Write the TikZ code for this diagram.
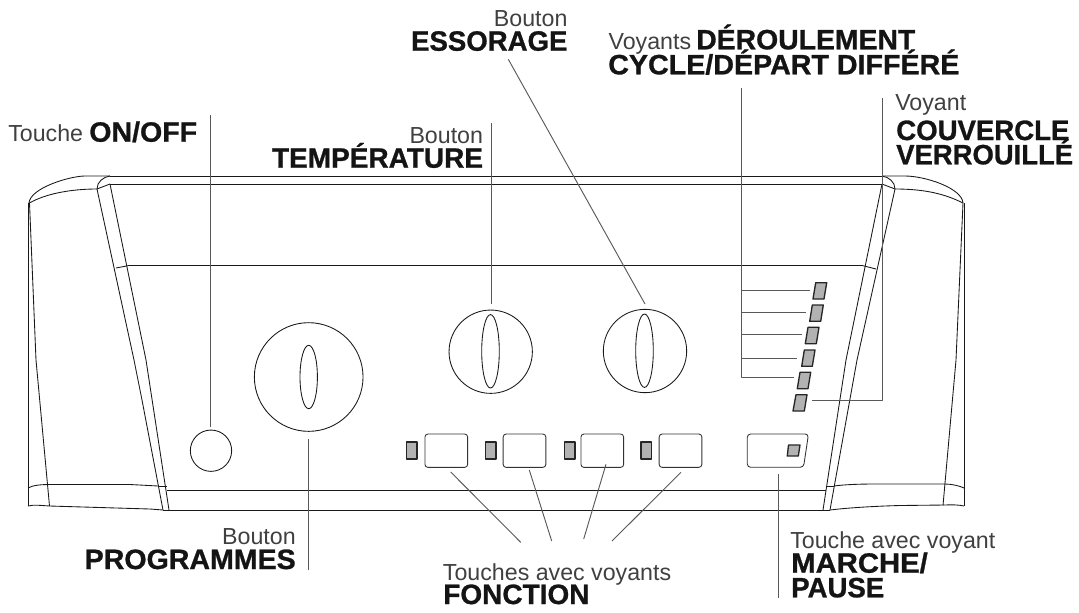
\documentclass[tikz,border=0pt]{standalone}
\usepackage{graphicx}
\usepackage{fontspec}
\setmainfont{Liberation Sans}
\newfontfamily\heavyfont[BoldFeatures={FakeBold=0.9}]{Liberation Sans}
\newcommand{\widen}[2]{\scalebox{#1}[1]{#2}}
\begin{document}
\begin{tikzpicture}[x=0.75pt,y=-0.75pt,line join=round,
  body/.style={draw=black!90,line width=0.65pt},
  lead/.style={draw=black!65,line width=0.7pt},
  lamp/.style={draw=black!85,fill=black!30,line width=1pt},
  flatlamp/.style={lamp,rectangle,inner sep=0pt,minimum width=8pt,minimum height=12.6pt},
  keybox/.style={draw=black!80,line width=0.65pt,rectangle,rounded corners=2.2pt,inner sep=0pt,minimum width=32pt,minimum height=25pt},
  knob/.style={draw=black!90,line width=0.65pt,circle,inner sep=0pt},
  thintext/.style={font=\fontsize{17.4}{18}\selectfont,text=black!75,inner sep=0pt},
  heavytext/.style={font=\fontsize{21}{21}\heavyfont\bfseries,text=black!92,inner sep=0pt}]
\useasboundingbox (0,0) rectangle (1079,612);

% ---- body of the panel
\draw[body] (110,176) -- (882,176);
\draw[body] (110,184) -- (882,184);
\draw[body] (128,265.7) -- (863,265.7);
\draw[body] (167,490) -- (826,490);
\draw[body] (163,510) -- (830,510);
% left shell
\draw[body] (29,203) .. controls (30,188) and (70,176) .. (85,176) -- (110,176);
\draw[body] (29.5,203) .. controls (45,194) and (70,189) .. (97,189);
\draw[body] (97,189) .. controls (97,182) and (103,177) .. (110,176);
\draw[body] (97,189) -- (110,184);
\draw[body] (97,189) -- (134,360) -- (142,400) -- (163,510);
\draw[body] (110,184) -- (146,360) -- (169,510);
\draw[body] (116,268) -- (128,265.7);
\draw[body] (158,486) -- (167,486);
\draw[body] (28,203) -- (28,506);
\draw[body] (29.5,203) -- (36,360) -- (49.5,506);
\draw[body] (28,488) .. controls (33,485) and (42,484.5) .. (50,484.5) -- (130,484.5) -- (158,486);
\draw[body] (28,506) .. controls (33,504.5) and (42,505.5) .. (49.5,506) -- (150,509) -- (163,510);
% right shell
\draw[body] (882,176) -- (905,176) .. controls (925,176) and (962,188) .. (963,203);
\draw[body] (895,189) .. controls (925,189) and (945,194) .. (963,203);
\draw[body] (882,176) .. controls (889,177) and (895,182) .. (895,189);
\draw[body] (882,184) -- (895,189);
\draw[body] (895,189) -- (857,360) -- (830,510);
\draw[body] (882,184) -- (846,360) -- (823,510);
\draw[body] (863,265.7) -- (876,269);
\draw[body] (826,486) -- (834,486);
\draw[body] (964,203) -- (964,506);
\draw[body] (963,203) -- (956,360) -- (943,505.5);
\draw[body] (834,486) .. controls (845,484.5) and (860,484) .. (875,484) -- (945,484) .. controls (952,484) and (960,486) .. (964,488);
\draw[body] (830,510) .. controls (850,507.5) and (880,506) .. (900,505.5) -- (945,505) .. controls (952,504.5) and (960,505) .. (964,506);

% ---- knobs
\node[knob,minimum size=81.5pt] (progknob) at (308.7,377) {};
\node[knob,minimum size=62.5pt] (tempknob) at (490.7,351.7) {};
\node[knob,minimum size=62.5pt] (spinknob) at (645,351) {};
\node[knob,minimum size=31pt] (powerkey) at (211,450.7) {};
\draw[body] (308.7,377) ellipse [x radius=8.7,y radius=31.7];
\draw[body] (490.5,351.3) ellipse [x radius=8.8,y radius=36.7];
\draw[body] (644.5,350.7) ellipse [x radius=8.8,y radius=36.7];

% ---- function keys and their lamps
\node[keybox] (keya) at (446.3,450.7) {};
\node[keybox] (keyb) at (524.5,450.7) {};
\node[keybox] (keyc) at (602.3,450.7) {};
\node[keybox] (keyd) at (680.5,450.7) {};
\node[flatlamp] (lampa) at (411.7,450.5) {};
\node[flatlamp] (lampb) at (490.5,450.5) {};
\node[flatlamp] (lampc) at (569.5,450.5) {};
\node[flatlamp] (lampd) at (646.3,450.5) {};

% ---- start key
\draw[draw=black!80,line width=0.65pt,rounded corners=2.5pt] (747.3,434) -- (808.5,434) -- (803.5,467.3) -- (747.3,467.3) -- cycle;
\draw[lamp] (788.5,445) -- (800,445) -- (798.3,456) -- (787.3,456) -- cycle;

% ---- column of lamps
\draw[lamp] (815.7,282.7) -- (826.7,282.7) -- (824,299) -- (813,299) -- cycle;
\draw[lamp] (812.3,305) -- (823.3,305) -- (820.7,321.3) -- (809.7,321.3) -- cycle;
\draw[lamp] (808,327.3) -- (819,327.3) -- (816.3,343.7) -- (805.3,343.7) -- cycle;
\draw[lamp] (804.3,350) -- (815,350) -- (812.3,366.3) -- (801.7,366.3) -- cycle;
\draw[lamp] (800,372.3) -- (810.7,372.3) -- (808,388.7) -- (797.3,388.7) -- cycle;
\draw[lamp] (796,394.7) -- (807,394.7) -- (804.3,411) -- (793,411) -- cycle;

% ---- leader ends
\coordinate (ona) at (210,115);      \coordinate (onb) at (210,426.7);
\coordinate (tea) at (491.7,123);    \coordinate (teb) at (491.7,304);
\coordinate (esa) at (508.3,59.3);   \coordinate (esb) at (645,304);
\coordinate (pra) at (308,439);      \coordinate (prb) at (308,570);
\coordinate (maa) at (778.7,474.3);  \coordinate (mab) at (778.7,597.7);
\coordinate (faa) at (450.7,472);    \coordinate (fab) at (520.7,542.3);
\coordinate (fba) at (529.3,470);    \coordinate (fbb) at (551.7,541);
\coordinate (fca) at (606,464.3);    \coordinate (fcb) at (583.7,539);
\coordinate (fda) at (681,472.3);    \coordinate (fdb) at (612,541);
\coordinate (cya) at (741,88.3);     \coordinate (cyb) at (741,377.7);
\coordinate (cy1a) at (741,290.3);   \coordinate (cy1b) at (810,290.3);
\coordinate (cy2a) at (741,312.3);   \coordinate (cy2b) at (806,312.3);
\coordinate (cy3a) at (741,334);     \coordinate (cy3b) at (801.7,334);
\coordinate (cy4a) at (741,358);     \coordinate (cy4b) at (796.7,358);
\coordinate (cy5b) at (793.7,377.7);
\coordinate (coa) at (882,98.3);     \coordinate (cob) at (882,400.3);
\coordinate (coc) at (812,400.3);

\draw[lead] (ona) -- (onb);
\draw[lead] (tea) -- (teb);
\draw[lead] (esa) -- (esb);
\draw[lead] (pra) -- (prb);
\draw[lead] (maa) -- (mab);
\draw[lead] (faa) -- (fab);
\draw[lead] (fba) -- (fbb);
\draw[lead] (fca) -- (fcb);
\draw[lead] (fda) -- (fdb);
\draw[lead] (cya) -- (cyb) -- (cy5b);
\draw[lead] (cy1a) -- (cy1b);
\draw[lead] (cy2a) -- (cy2b);
\draw[lead] (cy3a) -- (cy3b);
\draw[lead] (cy4a) -- (cy4b);
\draw[lead] (coa) -- (cob) -- (coc);

% ---- labels
\node[thintext,anchor=base west] (tona) at (8,141.7) {Touche};
\node[heavytext,anchor=base west] (tonb) at (89,141.7) {\widen{1.02}{ON/OFF}};
\node[thintext,anchor=base east] (tea1) at (483.3,143.3) {Bouton};
\node[heavytext,anchor=base east] (tea2) at (483.3,167.7) {TEMPÉRATURE};
\node[thintext,anchor=base east] (tes1) at (567.7,26) {Bouton};
\node[heavytext,anchor=base east] (tes2) at (567.7,50.7) {\widen{0.985}{ESSORAGE}};
\node[thintext,anchor=base west] (tvo1) at (608.3,49.3) {Voyants};
\node[heavytext,anchor=base west] (tvo2) at (696,49.3) {\widen{1.013}{DÉROULEMENT}};
\node[heavytext,anchor=base west] (tvo3) at (608,74.3) {\widen{1.023}{CYCLE/DÉPART DIFFÉRÉ}};
\node[thintext,anchor=base west] (tco1) at (895,110) {Voyant};
\node[heavytext,anchor=base west] (tco2) at (896,140) {\widen{0.985}{COUVERCLE}};
\node[heavytext,anchor=base west] (tco3) at (896,164.3) {\widen{0.98}{VERROUILLÉ}};
\node[thintext,anchor=base east] (tpr1) at (296,544) {Bouton};
\node[heavytext,anchor=base east] (tpr2) at (296,569) {\widen{1.02}{PROGRAMMES}};
\node[thintext,anchor=base west] (tfo1) at (442.7,580) {Touches avec voyants};
\node[heavytext,anchor=base west] (tfo2) at (443,604) {FONCTION};
\node[thintext,anchor=base west] (tma1) at (790,548.3) {Touche avec voyant};
\node[heavytext,anchor=base west] (tma2) at (791,572.7) {\widen{1.045}{MARCHE/}};
\node[heavytext,anchor=base west] (tma3) at (791,597.3) {\widen{0.985}{PAUSE}};
\end{tikzpicture}
\end{document}
